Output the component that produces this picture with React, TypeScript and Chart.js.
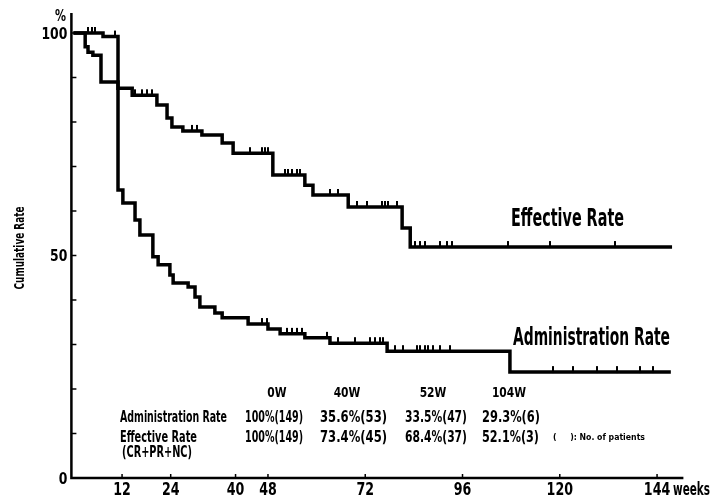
import React, { useEffect, useRef } from "react";
import { Chart, registerables } from "chart.js";

Chart.register(...registerables);

// ---- data (weeks, cumulative rate %) ----
const effWeeks = [0, 2.9, 3.6, 4.8, 6.8, 11.0, 14.5, 20.6, 23.1, 24.3, 27.0, 31.7, 36.7, 39.4, 49.2, 57.1, 59.1, 67.8, 81.1, 83.1, 147.7];
const effRate = [100, 96.9, 95.7, 95.0, 89.0, 87.6, 86.0, 83.8, 80.9, 78.9, 78.0, 77.1, 75.3, 73.0, 68.1, 65.8, 63.6, 60.9, 56.2, 51.9, 51.9];
const admWeeks = [0, 7.3, 11.0, 12.2, 15.2, 16.4, 19.6, 20.9, 23.8, 24.6, 28.3, 30.0, 31.2, 34.9, 36.7, 43.1, 48.0, 51.0, 57.1, 63.3, 77.4, 107.7, 147.4];
const admRate = [100, 99.2, 64.7, 61.8, 58.0, 54.6, 49.7, 47.9, 45.6, 43.8, 42.9, 40.7, 38.4, 37.1, 36.0, 34.6, 33.5, 32.4, 31.5, 30.3, 28.5, 23.8, 23.8];
const effCensorWeeks = [15.2, 16.9, 18.1, 19.4, 29.3, 30.5, 43.6, 46.5, 47.3, 48.0, 52.2, 52.9, 53.9, 55.2, 55.9, 63.3, 65.3, 70.0, 72.4, 76.1, 76.9, 77.6, 79.8, 84.3, 85.5, 86.8, 90.5, 92.2, 93.4, 107.2, 117.6, 133.6];
const admCensorWeeks = [3.6, 4.6, 5.3, 10.3, 46.5, 47.8, 52.7, 53.9, 55.2, 56.4, 62.6, 65.3, 69.5, 73.2, 74.4, 75.7, 76.4, 79.3, 81.3, 84.8, 85.5, 86.8, 87.5, 88.7, 90.5, 92.9, 118.3, 123.3, 129.2, 134.1, 139.8, 143.0];

const xTickValues = [12, 24, 40, 48, 72, 96, 120, 144];
const yTickValues = [0, 10, 20, 30, 40, 50, 60, 70, 80, 90, 100];
const yLabelValues = [0, 50, 100];

const tableHeaders = ["0W", "40W", "52W", "104W"];
const adminRow = ["100%(149)", "35.6%(53)", "33.5%(47)", "29.3%(6)"];
const effectiveRow = ["100%(149)", "73.4%(45)", "68.4%(37)", "52.1%(3)"];

const FONT = "'Liberation Sans Narrow', 'DejaVu Sans Condensed', 'Liberation Sans', Arial, sans-serif";

function valueAt(weeks: number[], rates: number[], t: number) {
  let v = rates[0];
  for (let i = 0; i < weeks.length; i++) if (weeks[i] <= t) v = rates[i];
  return v;
}

function fitText(ctx: CanvasRenderingContext2D, text: string, x: number, y: number, size: number, width: number, align: "left" | "center" | "right" = "left") {
  ctx.font = `bold ${size}px ${FONT}`;
  const w = ctx.measureText(text).width;
  const sx = width / w;
  let left = x;
  if (align === "center") left = x - width / 2;
  if (align === "right") left = x - width;
  ctx.save();
  ctx.translate(left, y);
  ctx.scale(sx, 1);
  ctx.textAlign = "left";
  ctx.textBaseline = "alphabetic";
  ctx.fillText(text, 0, 0);
  ctx.restore();
}

function scaledText(ctx: CanvasRenderingContext2D, text: string, x: number, y: number, size: number, sx: number, align: "left" | "center" | "right") {
  ctx.font = `bold ${size}px ${FONT}`;
  const w = ctx.measureText(text).width * sx;
  fitText(ctx, text, x, y, size, w, align);
}

const axesPlugin = {
  id: "kmAxes",
  afterDraw(chart: any) {
    const ctx: CanvasRenderingContext2D = chart.ctx;
    const xs = chart.scales.x;
    const ys = chart.scales.y;
    const area = chart.chartArea;
    ctx.save();
    ctx.strokeStyle = "#000";
    ctx.fillStyle = "#000";
    ctx.lineWidth = 2.5;
    ctx.lineCap = "butt";
    // axes lines
    ctx.beginPath();
    ctx.moveTo(area.left, 13);
    ctx.lineTo(area.left, area.bottom);
    ctx.lineTo(area.right, area.bottom);
    ctx.stroke();
    // y ticks
    ctx.lineWidth = 1.5;
    yTickValues.forEach((v) => {
      const py = ys.getPixelForValue(v);
      ctx.beginPath();
      ctx.moveTo(area.left, py);
      ctx.lineTo(area.left + 5, py);
      ctx.stroke();
    });
    yLabelValues.forEach((v) => {
      const py = ys.getPixelForValue(v);
      scaledText(ctx, String(v), area.left - 4, py + 5.5, 15, 0.92, "right");
    });
    // x ticks
    xTickValues.forEach((v) => {
      const px = xs.getPixelForValue(v);
      ctx.beginPath();
      ctx.moveTo(px, area.bottom);
      ctx.lineTo(px, area.bottom - 4);
      ctx.stroke();
      scaledText(ctx, String(v), px, 495, 18, 0.78, "center");
    });
    fitText(ctx, "weeks", 673, 495, 17, 37, "left");
    // % label
    fitText(ctx, "%", 55, 21, 15, 11, "left");
    // y title
    ctx.save();
    ctx.translate(24, 248);
    ctx.rotate(-Math.PI / 2);
    fitText(ctx, "Cumulative Rate", 0, 0, 14, 83, "center");
    ctx.restore();
    // curve labels
    fitText(ctx, "Effective Rate", 511, 226, 24, 113, "left");
    fitText(ctx, "Administration Rate", 513, 345, 24, 157, "left");
    // table
    const headerCenters = [277, 347, 433, 509];
    tableHeaders.forEach((t, i) => scaledText(ctx, t, headerCenters[i], 397, 14, 0.85, "center"));
    const colLeft = [245, 320, 405, 482];
    const colWidthA = [58, 67, 62, 58];
    const colWidthE = [58, 67, 62, 57];
    fitText(ctx, "Administration Rate", 120, 422, 16, 107, "left");
    adminRow.forEach((t, i) => fitText(ctx, t, colLeft[i], 422, 16, colWidthA[i], "left"));
    fitText(ctx, "Effective Rate", 120, 442, 16, 77, "left");
    effectiveRow.forEach((t, i) => fitText(ctx, t, colLeft[i], 442, 16, colWidthE[i], "left"));
    fitText(ctx, "(CR+PR+NC)", 122, 457, 15, 70, "left");
    fitText(ctx, "(     ): No. of patients", 553, 440, 9, 92, "left");
    ctx.restore();
  },
};

function makeTick(): HTMLCanvasElement {
  const c = document.createElement("canvas");
  c.width = 2;
  c.height = 16;
  const g = c.getContext("2d")!;
  g.fillStyle = "#000";
  g.fillRect(0, 2, 2, 6.5);
  return c;
}

export default function App() {
  const ref = useRef<HTMLCanvasElement | null>(null);
  useEffect(() => {
    if (!ref.current) return;
    const tick = makeTick();
    const line = (weeks: number[], rates: number[]) => weeks.map((w, i) => ({ x: w, y: rates[i] }));
    const censor = (cw: number[], weeks: number[], rates: number[]) => cw.map((w) => ({ x: w, y: valueAt(weeks, rates, w) }));
    const chart = new Chart(ref.current, {
      type: "line",
      data: {
        datasets: [
          { label: "Effective Rate", data: line(effWeeks, effRate), stepped: true, borderColor: "#000", borderWidth: 3.5, pointRadius: 0, fill: false, clip: false } as any,
          { label: "Administration Rate", data: line(admWeeks, admRate), stepped: true, borderColor: "#000", borderWidth: 3.5, pointRadius: 0, fill: false, clip: false } as any,
          { label: "Effective censored", data: censor(effCensorWeeks, effWeeks, effRate), showLine: false, pointStyle: tick, pointRadius: 3, clip: false } as any,
          { label: "Administration censored", data: censor(admCensorWeeks, admWeeks, admRate), showLine: false, pointStyle: tick, pointRadius: 3, clip: false } as any,
        ],
      },
      options: {
        responsive: false,
        animation: false,
        layout: { padding: { left: 71.4, right: 26.6, top: 33, bottom: 20 } },
        scales: {
          x: { type: "linear", min: -0.5, max: 150.5, display: false },
          y: { type: "linear", min: 0, max: 100, display: false },
        },
        plugins: { legend: { display: false }, tooltip: { enabled: false } },
      },
      plugins: [axesPlugin],
    } as any);
    return () => chart.destroy();
  }, []);
  return (
    <div style={{ position: "fixed", left: 0, top: 0, width: 710, height: 498, background: "#fff" }}>
      <canvas ref={ref} width={710} height={498} style={{ display: "block" }} />
    </div>
  );
}
